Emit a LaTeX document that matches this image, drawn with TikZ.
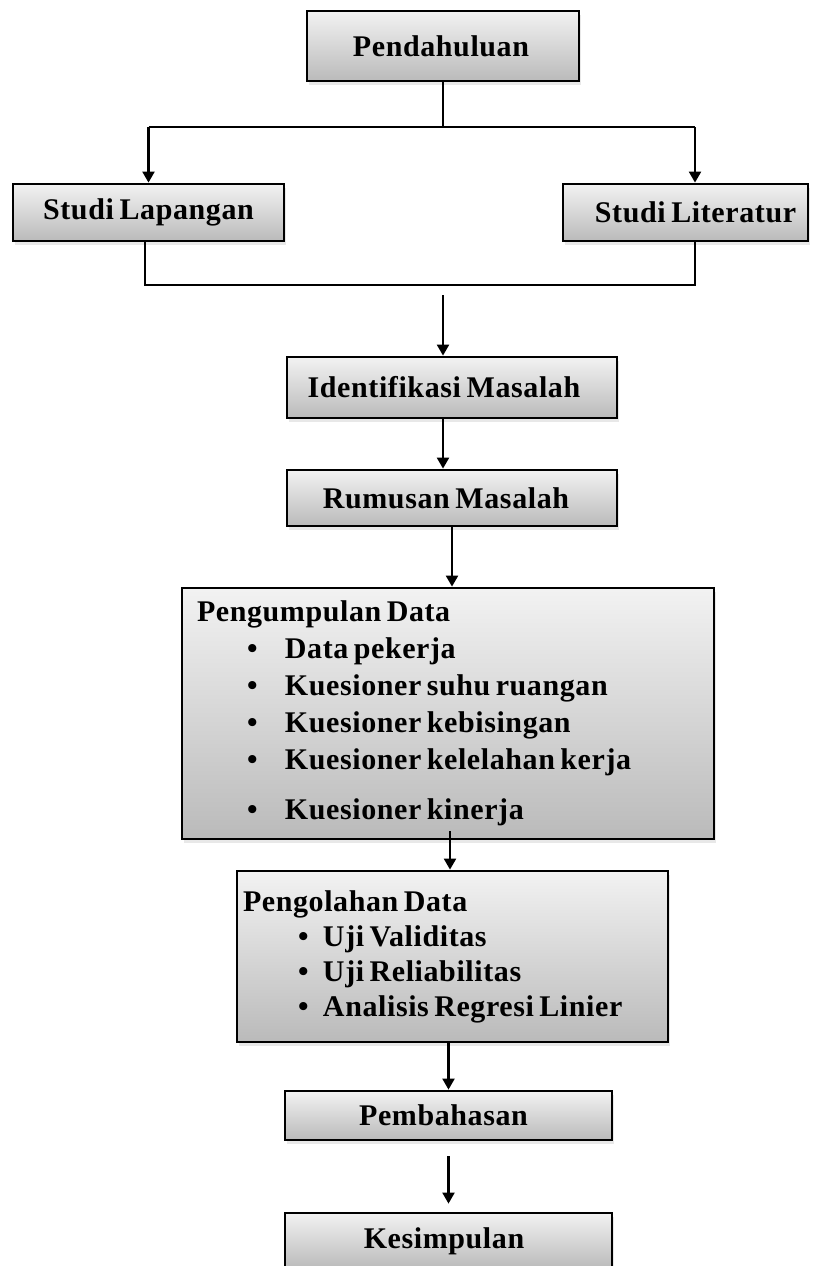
\documentclass[tikz,border=0pt]{standalone}
\usepackage{fontspec}
\setmainfont[WordSpace=0.7, LetterSpace=2]{Liberation Serif}
\usetikzlibrary{arrows.meta,shadows}
\tikzset{
	stepbox/.style={draw, line width=2.8pt, inner sep=0pt,
		top color=black!5, bottom color=black!27,
		drop shadow={shadow xshift=2pt, shadow yshift=-4pt, fill=black!18},
		font=\fontsize{30}{37}\selectfont\bfseries},
	flow/.style={line width=2.2pt},
	flowarrow/.style={flow, -{Triangle[width=12pt,length=11pt]}}
}
\newcommand{\listitem}[3]{\hspace*{#1}\makebox[#2][l]{\textbullet}#3}
\newcommand{\tightspace}{\spaceskip=0.18em plus 0.05em\relax}

\begin{document}
\begin{tikzpicture}[x=1pt, y=-1pt]
		%%%%% START %%%%%
		\useasboundingbox (0,0) rectangle (822,1266);
		\clip (0,0) rectangle (822,1266);
		
		\node[stepbox, minimum width=272pt, minimum height=70pt] (pend) at (443,46) {Pendahuluan\hspace*{4pt}};
		
		\node[stepbox, minimum width=271pt, minimum height=57pt] (lap) at (148.5,212.5) {Studi Lapangan};
		\node[stepbox, minimum width=245pt, minimum height=57pt] (lit) at (685.5,212.5) {\hspace*{20pt}Studi Literatur};
		
		\node[stepbox, minimum width=330pt, minimum height=61pt] (iden) at (452,387.5) {Identifikasi Masalah\hspace*{16pt}};
		\node[stepbox, minimum width=330pt, minimum height=56pt] (rum) at (452,498) {Rumusan Masalah\hspace*{12pt}};
		
		\node[stepbox, inner xsep=15pt, text width=502pt, minimum height=251pt, align=left] (kump) at (448,713.5) {\tightspace
			Pengumpulan Data\\
			\listitem{50pt}{38pt}{Data pekerja}\\
			\listitem{50pt}{38pt}{Kuesioner suhu ruangan}\\
			\listitem{50pt}{38pt}{Kuesioner kebisingan}\\
			\listitem{50pt}{38pt}{Kuesioner kelelahan kerja}\\[13pt]
			\listitem{50pt}{38pt}{Kuesioner kinerja}};
		
		\node[stepbox, inner xsep=6pt, text width=419pt, minimum height=171pt, align=left,
			font=\fontsize{30}{35}\selectfont\bfseries] (olah) at (452.5,956.5) {\tightspace
			Pengolahan Data\\
			\listitem{55pt}{25pt}{Uji Validitas}\\
			\listitem{55pt}{25pt}{Uji Reliabilitas}\\
			\listitem{55pt}{25pt}{Analisis Regresi Linier}};
		
		\node[stepbox, minimum width=327pt, minimum height=49pt] (bahas) at (448.5,1115.5) {Pembahasan\hspace*{10pt}};
		\node[stepbox, minimum width=327pt, minimum height=56pt] (simp) at (448.5,1241) {Kesimpulan\hspace*{9pt}};
		
		% split to the two studies
		\coordinate (splitTop) at (443,127);
		\coordinate (litIn) at (695,127);
		\draw[flow] (pend.south) -- (splitTop);
		\draw[flow] (lap.north |- splitTop) -- (litIn);
		\draw[flowarrow] (lap.north |- splitTop) -- (lap.north);
		\draw[flowarrow] (litIn) -- (litIn |- lit.north);
		
		% join below the two studies
		\coordinate (joinL) at (145,285);
		\coordinate (joinR) at (695,285);
		\coordinate (joinOut) at (443,295);
		\draw[flow] (joinL |- lap.south) -- (joinL) -- (joinR) -- (joinR |- lit.south);
		\draw[flowarrow] (joinOut) -- (joinOut |- iden.north);
		
		\draw[flowarrow] ([xshift=-9pt]iden.south) -- ([xshift=-9pt]rum.north);
		\draw[flowarrow] (rum.south) -- (rum.south |- kump.north);
		\draw[flowarrow] ([xshift=-2.5pt, yshift=9pt]olah.north |- kump.south) -- ([xshift=-2.5pt]olah.north);
		\draw[flowarrow] (olah.south -| bahas.north) -- (bahas.north);
		\draw[flowarrow] ([yshift=-15pt]bahas.south) -- ([yshift=8pt]simp.north);
		
		%%%%% END %%%%%
\end{tikzpicture}
\end{document}
